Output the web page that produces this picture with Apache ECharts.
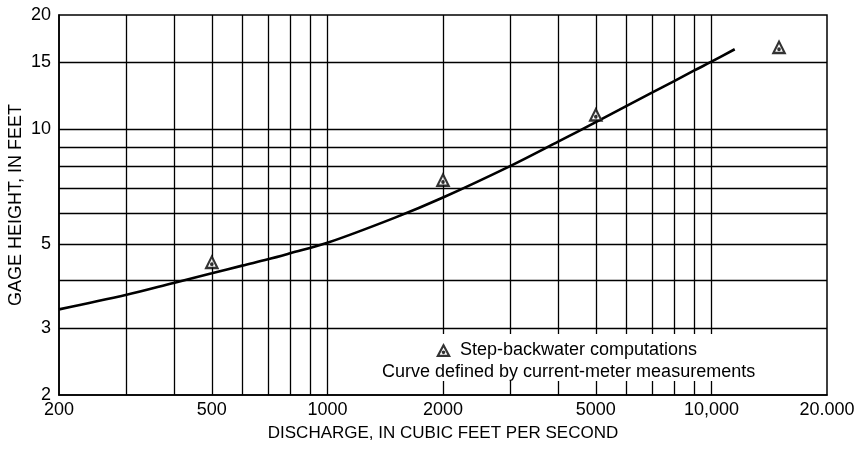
<!DOCTYPE html>
<html>
<head>
<meta charset="utf-8">
<script src="https://cdn.jsdelivr.net/npm/echarts@6/dist/echarts.min.js"></script>
<style>
  html, body { margin: 0; padding: 0; background: #fff; }
  #chart { width: 858px; height: 453px; }
</style>
</head>
<body>
<div id="chart"></div>
<script>
// Stage-discharge rating curve (log-log)
const dischargeCurve = [200, 300, 400, 500, 600, 700, 800, 1000, 1500, 2000, 3000, 4000, 5000, 6000, 7000, 8000, 9000, 10000, 11500];
const gageCurve      = [3.36, 3.67, 3.95, 4.18, 4.38, 4.55, 4.72, 5.03, 5.86, 6.62, 8.02, 9.3, 10.45, 11.52, 12.49, 13.4, 14.27, 15.07, 16.25];

// Step-backwater computations
const dischargeStep = [500, 2000, 5000, 15000];
const gageStep      = [4.42, 7.27, 10.8, 16.25];

// Axis ticks, grid lines and labels
const xGridValues  = [300, 400, 500, 600, 700, 800, 900, 1000, 2000, 3000, 4000, 5000, 6000, 7000, 8000, 9000, 10000];
const xLabelValues = [200, 500, 1000, 2000, 5000, 10000, 20000];
const xLabelTexts  = ['200', '500', '1000', '2000', '5000', '10,000', '20.000'];
const yGridValues  = [3, 4, 5, 6, 7, 8, 9, 10, 15];
const yLabelValues = [2, 3, 5, 10, 15, 20];
const yLabelTexts  = ['2', '3', '5', '10', '15', '20'];

const stepName  = 'Step-backwater computations';
const curveName = 'Curve defined by current-meter measurements';

// open triangle with a dot at its centroid
const triPath = 'path://M7,0 L14,13 L0,13 Z M7,4.1 L3.4,10.9 L10.6,10.9 Z ' +
                'M5.3,8.67 A1.7,1.7 0 1,0 8.7,8.67 A1.7,1.7 0 1,0 5.3,8.67 Z';

const FONT = '"Liberation Sans", Arial, Helvetica, sans-serif';
const INK = '#000';

const chart = echarts.init(document.getElementById('chart'), null, { renderer: 'canvas' });

const curveData = dischargeCurve.map((x, i) => [x, gageCurve[i]]);
const stepData  = dischargeStep.map((x, i) => [x, gageStep[i]]);

chart.setOption({
  animation: false,
  backgroundColor: '#fff',
  grid: {
    left: 59, right: 31, top: 15, bottom: 58,
    outerBoundsMode: 'none',
    containLabel: false,
    show: true, borderColor: INK, borderWidth: 1.5, backgroundColor: 'transparent'
  },
  xAxis: {
    type: 'log', logBase: 10, min: 200, max: 20000,
    name: 'DISCHARGE, IN CUBIC FEET PER SECOND',
    nameLocation: 'middle', nameGap: 30, nameMoveOverlap: false,
    nameTextStyle: { fontFamily: FONT, fontSize: 17, color: INK },
    axisLine: { show: true, lineStyle: { color: INK, width: 1.5 } },
    axisTick: { show: false, customValues: xGridValues },
    axisLabel: {
      customValues: xLabelValues,
      formatter: v => { const i = xLabelValues.indexOf(Math.round(v)); return i >= 0 ? xLabelTexts[i] : ''; },
      fontFamily: FONT, fontSize: 18, color: INK, margin: 6
    },
    splitLine: { show: true, lineStyle: { color: INK, width: 1.3 } },
    minorSplitLine: { show: false }
  },
  yAxis: {
    type: 'log', logBase: 10, min: 2, max: 20,
    name: 'GAGE HEIGHT, IN FEET',
    nameLocation: 'middle', nameGap: 34, nameMoveOverlap: false,
    nameTextStyle: { fontFamily: FONT, fontSize: 18, color: INK },
    axisLine: { show: true, lineStyle: { color: INK, width: 1.5 } },
    axisTick: { show: false, customValues: yGridValues },
    axisLabel: {
      customValues: yLabelValues,
      formatter: v => { const i = yLabelValues.indexOf(Math.round(v)); return i >= 0 ? yLabelTexts[i] : ''; },
      fontFamily: FONT, fontSize: 18, color: INK, margin: 8
    },
    splitLine: { show: true, lineStyle: { color: INK, width: 1.3 } },
    minorSplitLine: { show: false }
  },
  legend: {
    show: true,
    left: 436, top: 341,
    padding: 0,
    itemWidth: 15, itemHeight: 15, itemGap: 10,
    data: [{ name: stepName, icon: triPath }],
    textStyle: { fontFamily: FONT, fontSize: 18, color: INK, padding: [0, 0, 0, 4] },
    itemStyle: { color: INK },
    selectedMode: false
  },
  graphic: [
    {
      type: 'rect', z: 3,
      shape: { x: 378, y: 334, width: 402, height: 47 },
      style: { fill: '#fff' }
    },
    {
      type: 'text', z: 5,
      x: 382, y: 372,
      style: {
        text: curveName,
        font: '18px ' + FONT, fill: INK,
        textVerticalAlign: 'middle'
      }
    }
  ],
  series: [
    {
      name: curveName,
      type: 'line',
      data: curveData,
      smooth: 0.35,
      showSymbol: false,
      lineStyle: { color: INK, width: 2.6 },
      z: 2
    },
    {
      name: 'backing',
      type: 'scatter',
      data: stepData,
      symbol: 'triangle',
      symbolSize: [13, 12],
      symbolOffset: [0, -2.5],
      itemStyle: { color: '#fff' },
      z: 3
    },
    {
      name: stepName,
      type: 'scatter',
      data: stepData,
      symbol: triPath,
      symbolSize: [15, 15],
      symbolOffset: [0, -2.5],
      itemStyle: { color: INK },
      z: 4
    }
  ]
});
</script>
</body>
</html>
